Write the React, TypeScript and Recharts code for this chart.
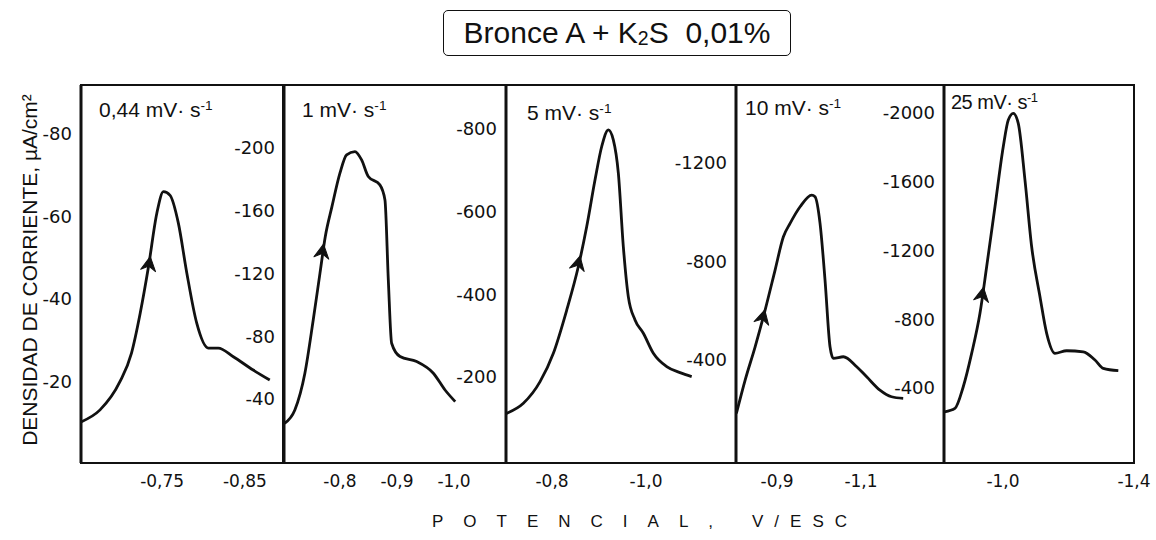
import React from 'react';
import { LineChart, Line, XAxis, YAxis, ReferenceArea, ReferenceDot } from 'recharts';

const pot044 = [-0.652, -0.675, -0.699, -0.713, -0.7235, -0.7335, -0.7436, -0.7516, -0.7596, -0.7696, -0.7798, -0.7918, -0.8058, -0.8178, -0.836, -0.86, -0.88];
const cur044 = [-10.4, -13.3, -20.1, -27, -36.6, -47.8, -60.7, -65.9, -65, -58.3, -46.3, -34.2, -28.2, -28.2, -26.1, -22.9, -20.5];

const pot1 = [-0.703, -0.721, -0.7386, -0.7532, -0.765, -0.7743, -0.786, -0.8, -0.8117, -0.8263, -0.838, -0.8497, -0.87, -0.8789, -0.8848, -0.8906, -0.9053, -0.9345, -0.9637, -0.9842, -1.002];
const cur1 = [-24.5, -33, -56.4, -90.3, -120, -143.4, -162.5, -183.8, -195.5, -197.6, -192.3, -181.7, -176.4, -166.8, -115.8, -75.5, -67, -63.8, -56.4, -45.7, -38.3];

const pot5 = [-0.703, -0.739, -0.7745, -0.8028, -0.8313, -0.856, -0.8738, -0.8915, -0.9057, -0.9198, -0.9304, -0.9411, -0.9517, -0.9623, -0.9766, -0.9943, -1.0156, -1.044, -1.0723, -1.0972];
const cur5 = [-112, -136.5, -188.7, -257.4, -362, -467, -563.7, -676.7, -757.3, -797.7, -773.5, -693, -515.4, -394.4, -338, -305.8, -257.4, -225, -210.5, -200.8];

const pot10 = [-0.803, -0.8238, -0.8476, -0.8714, -0.8952, -0.915, -0.931, -0.9548, -0.9826, -0.9905, -1.0024, -1.0143, -1.0262, -1.0341, -1.058, -1.0898, -1.1136, -1.1452, -1.173, -1.2007];
const cur10 = [-183.6, -318.8, -454, -603, -765.5, -900.7, -955, -1022.5, -1070, -1063, -955, -725, -454, -407, -413.4, -372.8, -332, -278, -251, -244.5];

const pot25 = [-0.822, -0.8534, -0.8788, -0.9044, -0.9298, -0.9502, -0.9756, -1.0009, -1.0162, -1.0315, -1.0467, -1.0672, -1.0876, -1.113, -1.1334, -1.1588, -1.1945, -1.2452, -1.2809, -1.3063, -1.3521];
const cur25 = [-262, -281.7, -407.6, -601.7, -834.6, -1105.7, -1454.8, -1804, -1959, -1998, -1940, -1610, -1222, -931, -718, -602, -617, -611, -563, -514.5, -500.8];

const rates = ['0,44', '1', '5', '10', '25'];

const yTicks044 = [-80, -60, -40, -20];
const yTicks1 = [-200, -160, -120, -80, -40];
const yTicks5 = [-800, -600, -400, -200];
const yTicks10 = [-1200, -800, -400];
const yTicks25 = [-2000, -1600, -1200, -800, -400];

const xTicks044 = [-0.75, -0.85];
const xTicks1 = [-0.8, -0.9, -1.0];
const xTicks5 = [-0.8, -0.9, -1.0, -1.1];
const xTicks10 = [-0.9, -1.0, -1.1, -1.2];
const xTicks25 = [-1.0, -1.2, -1.4];

const xLabeled044 = [-0.75, -0.85];
const xLabeled1 = [-0.8, -0.9, -1.0];
const xLabeled5 = [-0.8, -1.0];
const xLabeled10 = [-0.9, -1.1];
const xLabeled25 = [-1.0, -1.4];

// arrow position on the anodic branch [potential, current]
const arrow044 = [-0.7355, -50];
const arrow1 = [-0.771, -138];
const arrow5 = [-0.859, -490];
const arrow10 = [-0.87, -600];
const arrow25 = [-0.94, -980];

const toRows = (p: number[], c: number[]) => p.map((v, k) => ({ v, i: c[k] }));

const YW = 70;
const TOP = 80;
const PLOT_H = 378;
const RM = 24;

const panels = [
  { left: 81, right: 283, rows: toRows(pot044, cur044), xDomain: [-0.896, -0.652], yDomain: [-91.6, -0.5], xTicks: xTicks044, xLab: xLabeled044, yTicks: yTicks044, dec: 2, arrow: arrow044, rot: 9, rate: rates[0], lx: 99, ly: 99, fs: 21 },
  { left: 284, right: 506, rows: toRows(pot1, cur1), xDomain: [-1.091, -0.702], yDomain: [-240, 0.8], xTicks: xTicks1, xLab: xLabeled1, yTicks: yTicks1, dec: 1, arrow: arrow1, rot: 9, rate: rates[1], lx: 302, ly: 99, fs: 21 },
  { left: 506, right: 736, rows: toRows(pot5, cur5), xDomain: [-1.1915, -0.702], yDomain: [-906, 8], xTicks: xTicks5, xLab: xLabeled5, yTicks: yTicks5, dec: 1, arrow: arrow5, rot: 13, rate: rates[2], lx: 527, ly: 102, fs: 21 },
  { left: 736, right: 944, rows: toRows(pot10, cur10), xDomain: [-1.298, -0.802], yDomain: [-1517, 18], xTicks: xTicks10, xLab: xLabeled10, yTicks: yTicks10, dec: 1, arrow: arrow10, rot: 14, rate: rates[3], lx: 745, ly: 97, fs: 21 },
  { left: 944, right: 1134, rows: toRows(pot25, cur25), xDomain: [-1.4, -0.82], yDomain: [-2163, 36], xTicks: xTicks25, xLab: xLabeled25, yTicks: yTicks25, dec: 1, arrow: arrow25, rot: 10, rate: rates[4], lx: 951, ly: 92, fs: 20 },
];

const arrowShape = (rot: number) => (props: any) => {
  const { cx, cy } = props;
  return (
    <path
      d="M0,-1 L7.5,13 L0,8.5 L-7.5,13 Z"
      transform={`translate(${cx},${cy}) rotate(${rot})`}
      fill="#111"
      stroke="#111"
      strokeWidth={1}
      strokeLinejoin="round"
    />
  );
};

const SANS = '"Liberation Sans", Arial, sans-serif';

export default function App() {
  return (
    <div style={{ position: 'absolute', left: 0, top: 0, width: 1156, height: 540, background: '#fff', fontFamily: SANS, color: '#111' }}>
      {panels.map((p, n) => (
        <div key={n} style={{ position: 'absolute', left: p.left - YW, top: TOP }}>
          <LineChart
            width={YW + (p.right - p.left) + RM}
            height={5 + PLOT_H + 40}
            data={p.rows}
            margin={{ top: 5, right: RM, bottom: 0, left: 0 }}
          >
            <XAxis
              type="number"
              dataKey="v"
              domain={p.xDomain}
              reversed
              allowDataOverflow
              ticks={p.xTicks}
              tickFormatter={(v: number) => (p.xLab.includes(v) ? v.toFixed(p.dec).replace('.', ',') : '')}
              tick={{ fontSize: 17, fill: '#111', fontFamily: '"DejaVu Sans"' }}
              tickLine={false}
              tickSize={6}
              tickMargin={6}
              axisLine={{ stroke: '#111', strokeWidth: 2 }}
              height={40}
            />
            <YAxis
              type="number"
              domain={p.yDomain}
              reversed
              allowDataOverflow
              ticks={p.yTicks}
              tick={{ fontSize: 18, fill: '#111', fontFamily: '"DejaVu Sans"' }}
              tickLine={false}
              tickSize={6}
              tickMargin={3}
              axisLine={{ stroke: '#111', strokeWidth: 3 }}
              width={YW}
            />
            <ReferenceArea
              x1={p.xDomain[0]}
              x2={p.xDomain[1]}
              y1={p.yDomain[0]}
              y2={p.yDomain[1]}
              fill="none"
              stroke="#111"
              strokeWidth={2}
              ifOverflow="visible"
            />
            <Line
              type="monotone"
              dataKey="i"
              stroke="#111"
              strokeWidth={2.8}
              dot={false}
              isAnimationActive={false}
            />
            <ReferenceDot x={p.arrow[0]} y={p.arrow[1]} r={6} shape={arrowShape(p.rot)} ifOverflow="visible" />
          </LineChart>
        </div>
      ))}

      {panels.map((p, n) => (
        <div key={'l' + n} style={{ position: 'absolute', left: p.lx, top: p.ly, fontSize: p.fs, lineHeight: 1, whiteSpace: 'nowrap', letterSpacing: p.fs < 21 ? -0.5 : 0 }}>
          {p.rate} mV· s<span style={{ fontSize: '0.65em', position: 'relative', top: '-0.55em' }}>-1</span>
        </div>
      ))}

      <div style={{ position: 'absolute', left: 443, top: 10, width: 346, height: 44, border: '1.5px solid #111', borderRadius: 5, display: 'flex', alignItems: 'center', justifyContent: 'center', fontSize: 30, whiteSpace: 'nowrap' }}>
        Bronce A + K<span style={{ fontSize: '0.65em', position: 'relative', top: '0.3em' }}>2</span>S&nbsp; 0,01%
      </div>

      <div style={{ position: 'absolute', left: 29, top: 270, transform: 'translate(-50%, -50%) rotate(-90deg)', fontSize: 21, whiteSpace: 'nowrap', lineHeight: 1 }}>
        DENSIDAD DE CORRIENTE, µA/cm²
      </div>

      <div style={{ position: 'absolute', left: 432, top: 513, fontSize: 17, letterSpacing: 20, whiteSpace: 'nowrap', lineHeight: 1 }}>
        POTENCIAL,
      </div>
      <div style={{ position: 'absolute', left: 752, top: 513, fontSize: 17, letterSpacing: 11, whiteSpace: 'nowrap', lineHeight: 1 }}>
        V/ESC
      </div>
    </div>
  );
}
